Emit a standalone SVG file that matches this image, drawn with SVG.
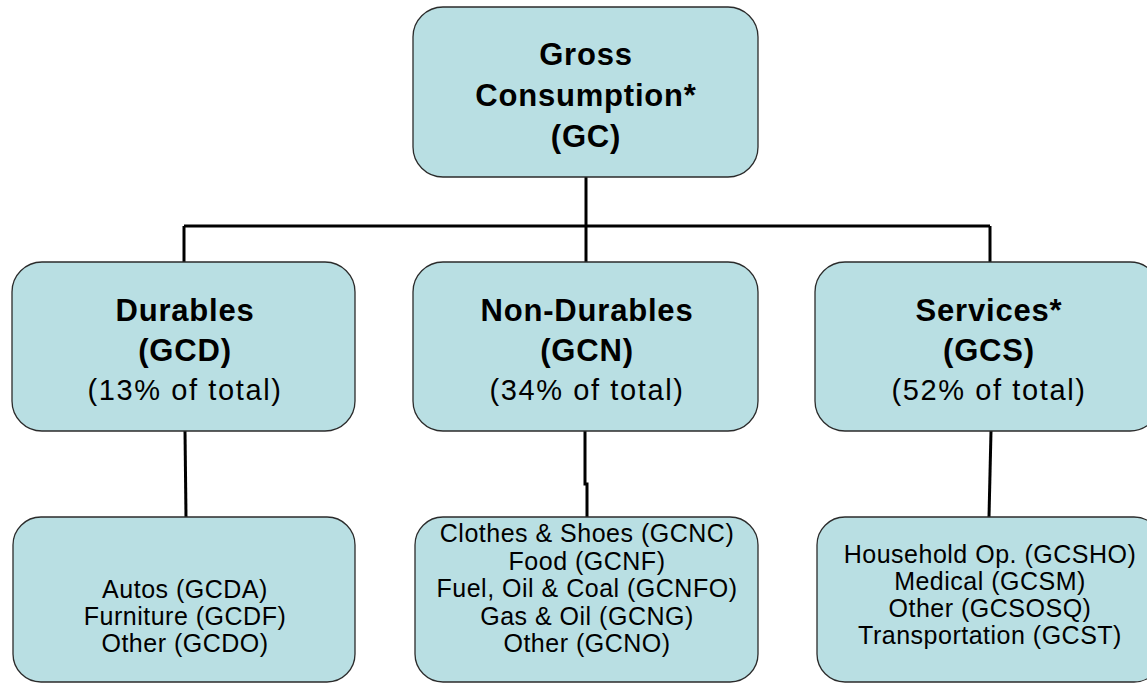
<svg xmlns="http://www.w3.org/2000/svg" width="1147" height="685" viewBox="0 0 1147 685">
<style>
.box{fill:#B9DFE3;stroke:#2b2b2b;stroke-width:1.3}
.t{font-family:"Liberation Sans",Arial,sans-serif;fill:#000;text-anchor:middle}
.b{font-weight:bold;font-size:31px;letter-spacing:0.8px}
.m{font-size:29px;letter-spacing:1.6px}
.s{font-size:25px;letter-spacing:0.5px}
.c{fill:none;stroke:#000;stroke-width:3}
</style>
<rect width="1147" height="685" fill="#fff"/>
<g id="connectors">
<path class="c" d="M586 177 V262"/>
<path class="c" d="M184 226 H990"/>
<path class="c" d="M184 226 V262"/>
<path class="c" d="M990 226 V262"/>
<path class="c" d="M185 431 L186 517"/>
<path class="c" d="M585 431 V484 H587 V517"/>
<path class="c" d="M991 431 L989 517"/>
</g>
<g id="gc">
<rect class="box" x="413" y="7" width="345" height="170" rx="30"/>
<text class="t b" x="586" y="65">Gross</text>
<text class="t b" x="586" y="106">Consumption*</text>
<text class="t b" x="586" y="147">(GC)</text>
</g>
<g id="gcd">
<rect class="box" x="12" y="262" width="343" height="169" rx="30"/>
<text class="t b" x="185" y="321">Durables</text>
<text class="t b" x="185" y="361">(GCD)</text>
<text class="t m" x="185" y="400">(13% of total)</text>
</g>
<g id="gcn">
<rect class="box" x="413" y="262" width="345" height="169" rx="30"/>
<text class="t b" x="587" y="321">Non-Durables</text>
<text class="t b" x="587" y="361">(GCN)</text>
<text class="t m" x="587" y="400">(34% of total)</text>
</g>
<g id="gcs">
<rect class="box" x="815" y="262" width="345" height="169" rx="30"/>
<text class="t b" x="989" y="321">Services*</text>
<text class="t b" x="989" y="361">(GCS)</text>
<text class="t m" x="989" y="400">(52% of total)</text>
</g>
<g id="gcd-sub">
<rect class="box" x="13" y="517" width="342" height="165" rx="28"/>
<text class="t s" x="185" y="598">Autos (GCDA)</text>
<text class="t s" x="185" y="625">Furniture (GCDF)</text>
<text class="t s" x="185" y="652">Other (GCDO)</text>
</g>
<g id="gcn-sub">
<rect class="box" x="415" y="517" width="343" height="165" rx="28"/>
<text class="t s" x="587" y="542">Clothes &amp; Shoes (GCNC)</text>
<text class="t s" x="587" y="570">Food (GCNF)</text>
<text class="t s" x="587" y="597">Fuel, Oil &amp; Coal (GCNFO)</text>
<text class="t s" x="587" y="625">Gas &amp; Oil (GCNG)</text>
<text class="t s" x="587" y="652">Other (GCNO)</text>
</g>
<g id="gcs-sub">
<rect class="box" x="817" y="517" width="345" height="165" rx="28"/>
<text class="t s" x="990" y="563">Household Op. (GCSHO)</text>
<text class="t s" x="990" y="590">Medical (GCSM)</text>
<text class="t s" x="990" y="617">Other (GCSOSQ)</text>
<text class="t s" x="990" y="644">Transportation (GCST)</text>
</g>
</svg>
